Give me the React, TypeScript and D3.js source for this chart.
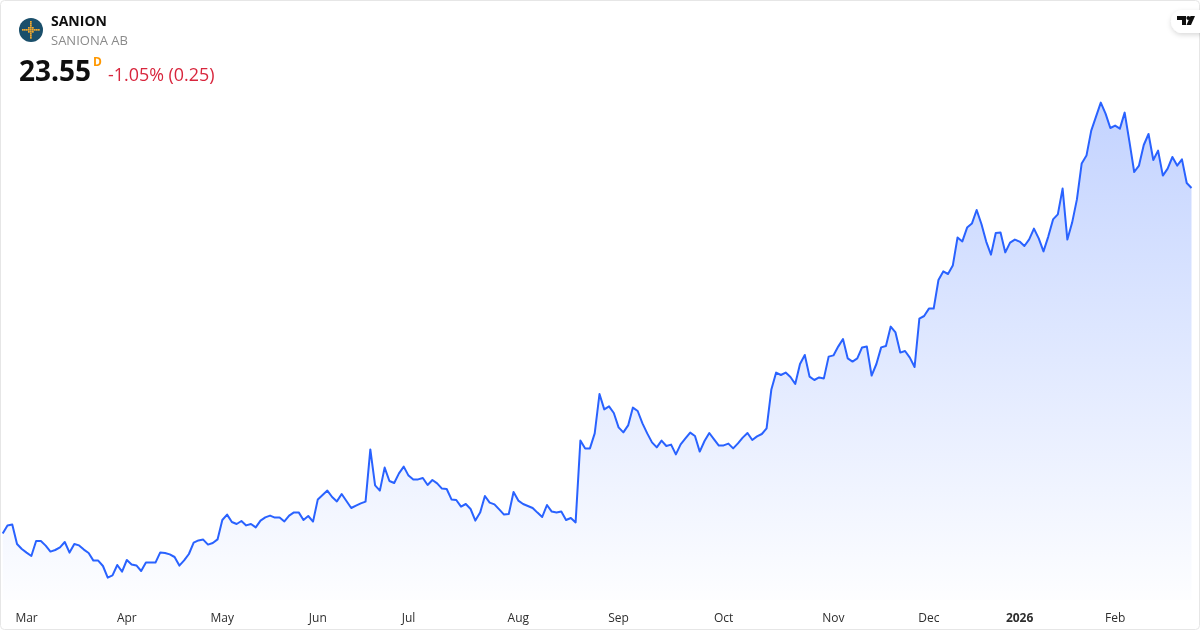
import * as React from 'react';
import * as d3 from 'd3';

const SYMBOL = 'SANION';
const COMPANY = 'SANIONA AB';
const LAST_PRICE = '23.55';
const INTERVAL = 'D';
const CHANGE = '-1.05% (0.25)';

// daily closes
const closes: number[] = [
  6.28, 6.68, 6.73, 5.75, 5.5, 5.32, 5.15, 5.9, 5.9, 5.67, 5.37, 5.45, 5.58, 5.85, 5.32, 5.75,
  5.68, 5.47, 5.3, 4.92, 4.92, 4.65, 4.07, 4.18, 4.7, 4.37, 4.95, 4.73, 4.68, 4.4, 4.83, 4.83,
  4.82, 5.33, 5.3, 5.23, 5.1, 4.67, 4.93, 5.25, 5.82, 5.93, 5.97, 5.72, 5.8, 5.98, 6.95, 7.22,
  6.85, 6.75, 6.9, 6.68, 6.75, 6.58, 6.92, 7.08, 7.17, 7.07, 7.08, 6.88, 7.17, 7.33, 7.33,
  6.95, 7.15, 6.87, 7.98, 8.2, 8.42, 8.1, 7.88, 8.25, 7.9, 7.55, 7.67, 7.78, 7.87, 10.48, 8.68,
  8.42, 9.57, 8.9, 8.8, 9.28, 9.62, 9.17, 8.97, 8.98, 9.05, 8.7, 8.95, 8.78, 8.52, 8.5, 7.98,
  7.95, 7.62, 7.75, 7.5, 6.92, 7.32, 8.15, 7.82, 7.73, 7.48, 7.22, 7.25, 8.35, 7.92, 7.75, 7.65,
  7.55, 7.32, 7.1, 7.7, 7.37, 7.33, 7.38, 6.95, 7.05, 6.83, 10.92, 10.52, 10.53, 11.28, 13.25,
  12.48, 12.63, 12.3, 11.58, 11.33, 11.68, 12.57, 12.4, 11.78, 11.28, 10.83, 10.58, 10.92, 10.65,
  10.72, 10.23, 10.73, 11.03, 11.32, 11.15, 10.37, 10.9, 11.3, 10.98, 10.67, 10.68, 10.77, 10.53,
  10.78, 11.07, 11.3, 10.95, 11.13, 11.25, 11.53, 13.48, 14.32, 14.2, 14.32, 14.1, 13.75, 14.75,
  15.2, 14.12, 13.95, 14.08, 14.03, 15.12, 15.18, 15.62, 16.0, 15.03, 14.87, 15.03, 15.58, 15.62,
  14.17, 14.75, 15.58, 15.65, 16.62, 16.33, 15.32, 15.4, 15.07, 14.6, 17.02, 17.15, 17.52, 17.52,
  18.95, 19.38, 19.25, 19.67, 21.08, 20.88, 21.57, 21.77, 22.45, 21.75, 20.87, 20.22, 21.3, 21.32,
  20.33, 20.82, 20.97, 20.87, 20.65, 20.98, 21.52, 21.03, 20.38, 21.12, 21.98, 22.23, 23.52, 20.97,
  21.82, 22.98, 24.78, 25.17, 26.42, 27.12, 27.82, 27.27, 26.55, 26.67, 26.52, 27.32, 25.87, 24.35,
  24.67, 25.7, 26.25, 24.95, 25.42, 24.17, 24.52, 25.1, 24.67, 24.98, 23.8, 23.55,
];

const monthLabels = ['Mar', 'Apr', 'May', 'Jun', 'Jul', 'Aug', 'Sep', 'Oct', 'Nov', 'Dec', '2026', 'Feb'];
// index of the first bar of each month in closes
const monthStarts = [5, 26, 46, 66, 85, 108, 129, 151, 174, 194, 213, 233];

const logoDots: [number, number][] = [
  [0, -4], [0, -3], [-1, -1], [0, -2], [1, -1], [-4, 0], [-3, 0], [-2, 0], [-1, 0], [0, 0], [1, 0], [2, 0], [3, 0], [4, 0],
  [0, -1], [0, 1], [-1, 1], [1, 1], [0, 2], [0, 3], [0, 4],
];

const WIDTH = 1200;
const HEIGHT = 630;
const PLOT_BOTTOM = 600;
const FONT = '"Open Sans", sans-serif';

export default function App() {
  const x = d3.scaleLinear().domain([0, closes.length - 1]).range([2.7, 1191.5]);
  const y = d3.scaleLinear().domain([4, 28]).range([579, 99]);

  const line = d3.line<number>().x((_, i) => x(i)).y(d => y(d));
  const area = d3.area<number>().x((_, i) => x(i)).y0(PLOT_BOTTOM).y1(d => y(d));

  return (
    <svg
      width={WIDTH}
      height={HEIGHT}
      viewBox={`0 0 ${WIDTH} ${HEIGHT}`}
      style={{ position: 'fixed', left: 0, top: 0, fontFamily: FONT }}
    >
      <defs>
        <linearGradient id="fill" gradientUnits="userSpaceOnUse" x1="0" x2="0" y1={y(d3.max(closes)!)} y2={PLOT_BOTTOM}>
          <stop offset="0" stopColor="#2962ff" stopOpacity={0.28} />
          <stop offset="1" stopColor="#2962ff" stopOpacity={0.01} />
        </linearGradient>
        <filter id="pill" x="-40%" y="-40%" width="180%" height="180%">
          <feDropShadow dx="0" dy="2" stdDeviation="2.5" floodColor="#000" floodOpacity={0.15} />
        </filter>
      </defs>

      <rect x={0.5} y={0.5} width={WIDTH - 1} height={HEIGHT - 1} rx={4} fill="#fff" stroke="#e6e6e6" />

      <path d={area(closes) ?? ''} fill="url(#fill)" />
      <path d={line(closes) ?? ''} fill="none" stroke="#2962ff" strokeWidth={2} strokeLinejoin="round" />

      {monthLabels.map((label, i) => (
        <text
          key={label}
          x={x(monthStarts[i])}
          y={622}
          textAnchor="middle"
          fontSize={12}
          fontWeight={label === '2026' ? 700 : 400}
          fill="#2e2e2e"
        >
          {label}
        </text>
      ))}

      <g transform="translate(31,30)">
        <circle r={12} fill="#1a4f6b" />
        {logoDots.map(([a, b]) => (
          <rect key={`${a}_${b}`} x={a * 2 - 1} y={b * 2 - 1} width={1.7} height={1.7} fill="#f2a92c" />
        ))}
      </g>

      <text x={51} y={26} fontSize={14} fontWeight={700} fill="#0f0f0f">{SYMBOL}</text>
      <text x={51} y={45} fontSize={13} fill="#8a8a8a">{COMPANY}</text>
      <text x={19} y={81} fontSize={28} fontWeight={700} fill="#0f0f0f">{LAST_PRICE}</text>
      <text x={93} y={66} fontSize={12} fontWeight={700} fill="#ff9800">{INTERVAL}</text>
      <text x={108} y={81} fontSize={17.9} fill="#d8263d">{CHANGE}</text>

      <rect x={1171} y={10} width={40} height={23} rx={11.5} fill="#fff" filter="url(#pill)" />
      <g fill="#0f0f0f">
        <path d="M1177 16h9v9h-4v-5h-5z" />
        <circle cx={1188.3} cy={18} r={1.9} />
        <path d="M1190.5 16h4.5l-4 9h-4.5z" />
      </g>
    </svg>
  );
}
